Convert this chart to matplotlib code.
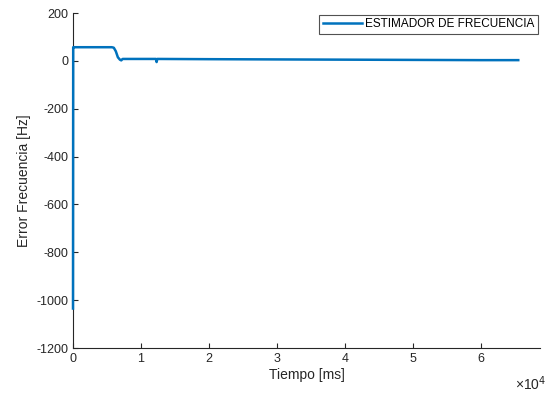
import matplotlib
matplotlib.use("Agg")
import matplotlib.pyplot as plt
from matplotlib.ticker import FuncFormatter, FixedLocator

plt.rcParams['font.family'] = ['Liberation Sans', 'DejaVu Sans']
plt.rcParams['axes.unicode_minus'] = False

# Data (time in ms, frequency error in Hz)
time_ms = [0, 30, 80, 3000, 5700, 6000, 6300, 6600, 6900, 7100, 7300,
           12200, 12300, 12400, 20000, 30000, 40000, 50000, 60000, 65500]
freq_err = [-1035, 57, 57, 57, 57, 55, 40, 15, 5, 2, 8,
            8, -5, 8, 7, 6, 5, 4, 3, 3]

x_ticks = [0, 10000, 20000, 30000, 40000, 50000, 60000]
y_ticks = [200, 0, -200, -400, -600, -800, -1000, -1200]

fig = plt.figure(figsize=(5.48, 3.94), dpi=100)
ax = fig.add_axes([73/548, 1-348/394, (540-73)/548, (348-13)/394])

blue = (0, 0.447, 0.741)
gray = (0.15, 0.15, 0.15)
ax.plot(time_ms, freq_err, color=blue, lw=1.8, label='ESTIMADOR DE FRECUENCIA',
        clip_on=False, zorder=3)

ax.set_xlim(0, 68700)
ax.set_ylim(-1200, 200)
ax.xaxis.set_major_locator(FixedLocator(x_ticks))
ax.yaxis.set_major_locator(FixedLocator(y_ticks))
ax.xaxis.set_major_formatter(FuncFormatter(lambda v, p: f"{v/1e4:g}"))
ax.yaxis.set_major_formatter(FuncFormatter(lambda v, p: f"{int(v)}"))

for s in ['top', 'right']:
    ax.spines[s].set_visible(False)
for s in ['left', 'bottom']:
    ax.spines[s].set_color(gray)
    ax.spines[s].set_linewidth(0.8)
ax.tick_params(direction='in', length=3.5, width=0.8, color=gray,
               labelcolor=gray, labelsize=9)

ax.set_xlabel('Tiempo [ms]', fontsize=10, color=gray, labelpad=2)
ax.set_ylabel('Error Frecuencia [Hz]', fontsize=10, color=gray, labelpad=4)

fig.text(546/548, 1-384/394, '×10$^{4}$', fontsize=10, color=gray,
         ha='right', va='center')

leg = ax.legend(loc='upper right', fontsize=8.5, handlelength=3.3,
                frameon=True, fancybox=False, borderpad=0.3,
                handletextpad=0.3, borderaxespad=0.15)
leg.get_frame().set_edgecolor(gray)
leg.get_frame().set_linewidth(0.8)
for t in leg.get_texts():
    t.set_color('black')

fig.savefig('out.png', dpi=100)
